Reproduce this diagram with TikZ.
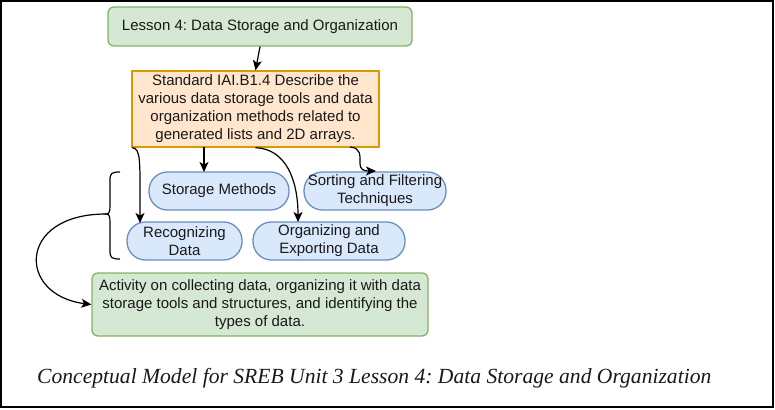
\documentclass[tikz,border=0pt]{standalone}
\usepackage{fontspec}
\setmainfont{Liberation Sans}
\newfontfamily\capfont{Liberation Serif}
\usetikzlibrary{arrows.meta,calc}
\definecolor{gfill}{HTML}{D5E8D4}
\definecolor{gdraw}{HTML}{82B366}
\definecolor{ofill}{HTML}{FFE6CC}
\definecolor{odraw}{HTML}{D79B00}
\definecolor{bfill}{HTML}{DAE8FC}
\definecolor{bdraw}{HTML}{6C8EBF}
\frenchspacing
\begin{document}
\begin{tikzpicture}[x=1pt,y=-1pt,
  every node/.style={font=\fontsize{15}{18}\selectfont,align=center,inner sep=0pt,text=black!90},
  greenbox/.style={draw=gdraw,fill=gfill,line width=1.3pt,rounded corners=6pt},
  orangebox/.style={draw=odraw,fill=ofill,line width=1.3pt},
  pill/.style={draw=bdraw,fill=bfill,line width=1.3pt,rounded corners=18.5pt,minimum height=38pt},
  arr/.style={line width=1.2pt,-{Stealth[length=10pt,width=9pt,inset=2.5pt]}}]
\useasboundingbox (0,0) rectangle (775,409);
\draw[line width=1.5pt] (1,1) rectangle (773,407);

\node[greenbox,minimum width=304pt,minimum height=39pt] (lesson) at (260,26.5) {Lesson 4: Data Storage and Organization};
\node[orangebox,minimum width=247pt,minimum height=76pt] (std) at (255.5,109) {Standard IAI.B1.4 Describe the\\various data storage tools and data\\organization methods related to\\generated lists and 2D arrays.};
\node[pill,minimum width=140pt] (storage) at (219,191) {Storage Methods};
\node[pill,minimum width=142pt] (sorting) at (375,191) {Sorting and Filtering\\Techniques};
\node[pill,minimum width=115pt] (recog) at (184.5,241) {Recognizing\\Data};
\node[pill,minimum width=152pt] (organ) at (329,241) {Organizing and\\Exporting Data};
\node[greenbox,minimum width=336pt,minimum height=63pt] (act) at (260,304.5) {Activity on collecting data, organizing it with data\\storage tools and structures, and identifying the\\types of data.};

\node[font=\capfont\itshape\fontsize{21.6}{25}\selectfont,anchor=west] (cap) at (37,378) {Conceptual Model for SREB Unit 3 Lesson 4: Data Storage and Organization};

\coordinate (b1) at ($(std.south west)+(1,0)$);
\coordinate (e1) at (140,223);
\coordinate (b2) at (204,147);
\coordinate (e2) at (204,172);
\coordinate (b3) at (std.south);
\coordinate (e3) at (298,222);
\coordinate (b4) at (350,147);
\coordinate (m4) at (360,163);
\coordinate (e4) at (376,171);
\coordinate (bt) at (106,214);
\coordinate (ea) at (act.west);

\draw[arr] (lesson.south) -- (std.north);
\draw[arr] (b1) .. controls (141,149) and (140,160) .. (e1);
\draw[arr] (b2) -- (e2);
\draw[arr] (b3) .. controls (286,149) and (298,180) .. (e3);
\draw[arr] (b4) .. controls (361,148) and (360,155) .. (m4) .. controls (360,170) and (364,171) .. (e4);

\draw[line width=1.2pt] (120,172) .. controls (112,172) and (110,173) .. (110,180) -- (110,206)
  .. controls (110,212) and (109,214) .. (bt) .. controls (109,214) and (110,216) .. (110,222)
  -- (110,251) .. controls (110,258) and (112,259) .. (120,259);
\draw[arr] (bt) .. controls (17,214) and (17,295) .. (ea);
\end{tikzpicture}
\end{document}
